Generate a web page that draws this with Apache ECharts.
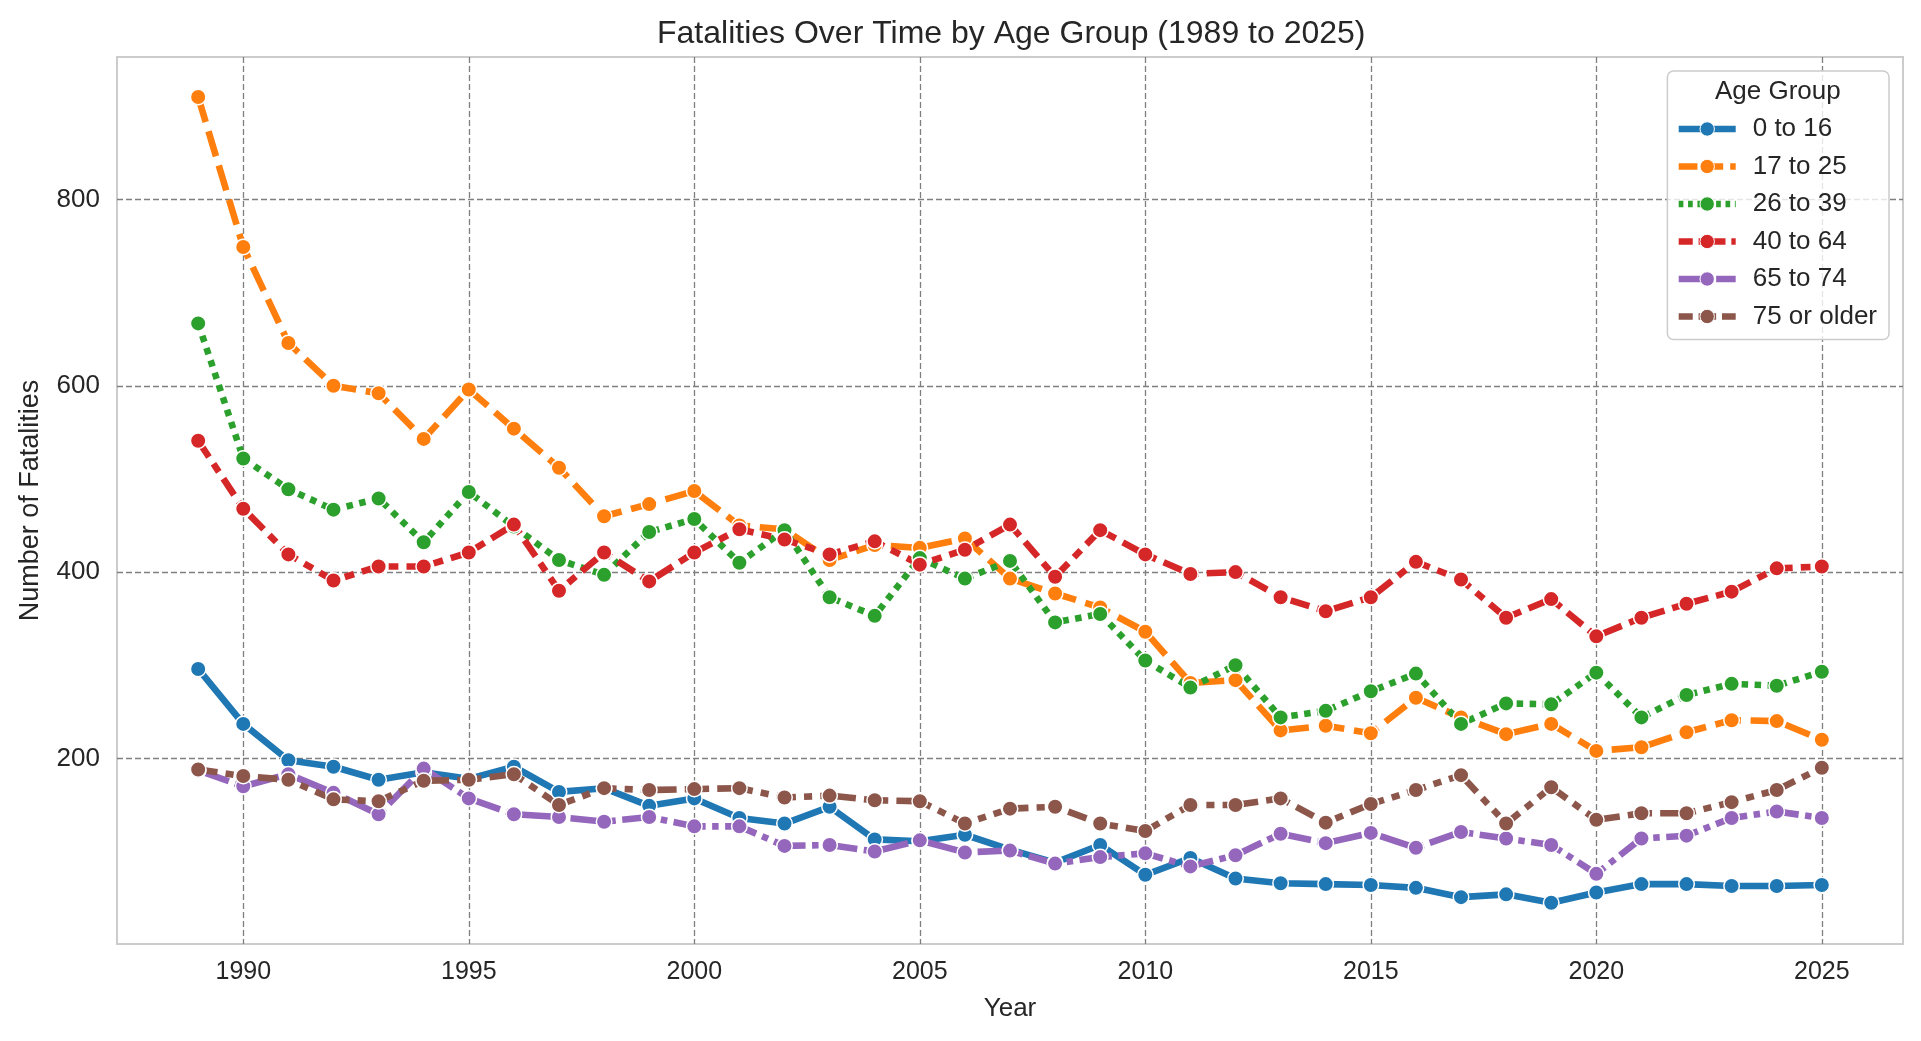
<!DOCTYPE html>
<html>
<head>
<meta charset="utf-8">
<script src="https://cdn.jsdelivr.net/npm/echarts@6/dist/echarts.min.js"></script>
<style>
  html, body { margin: 0; padding: 0; background: #ffffff; }
  #chart { width: 1921px; height: 1041px; }
</style>
</head>
<body>
<div id="chart"></div>
<script>
const years = [1989,1990,1991,1992,1993,1994,1995,1996,1997,1998,1999,2000,2001,2002,2003,2004,2005,2006,2007,2008,2009,2010,2011,2012,2013,2014,2015,2016,2017,2018,2019,2020,2021,2022,2023,2024,2025];
const ageGroups = ['0 to 16','17 to 25','26 to 39','40 to 64','65 to 74','75 or older'];
const age0to16 = [296,237,198,191,177,185,178,191,164,168,149,157,136,130,148,113,111,118,102,88,107,75,93,71,66,65,64,61,51,54,45,56,65,65,63,63,64];
const age17to25 = [910,749,646,600,592,543,596,554,512,460,473,487,450,446,413,429,426,436,393,377,362,336,281,284,230,235,227,265,244,226,237,208,212,228,241,240,220];
const age26to39 = [667,522,489,467,479,432,486,449,413,397,443,457,410,445,373,353,415,393,412,346,355,305,276,300,244,251,272,291,237,259,258,292,244,268,280,278,293];
const age40to64 = [541,468,419,391,406,406,421,451,380,421,390,421,446,435,419,433,408,424,451,395,445,419,398,400,373,358,373,411,392,351,371,331,351,366,379,404,406];
const age65to74 = [187,170,183,163,140,189,157,140,137,132,137,127,127,106,107,100,112,99,101,87,94,98,84,96,119,109,120,104,121,114,107,76,114,117,136,143,136];
const age75plus = [188,181,177,156,154,176,177,183,150,168,166,167,168,158,160,155,154,130,146,148,130,122,150,150,157,131,151,166,182,130,169,134,141,141,153,166,190];
const xTicks = [1990,1995,2000,2005,2010,2015,2020,2025];
const yTicks = [200,400,600,800];

const seriesValues = [age0to16, age17to25, age26to39, age40to64, age65to74, age75plus];
const colors = ['#1f77b4','#ff7f0e','#2ca02c','#d62728','#9467bd','#8c564b'];
const u = 6.5;
const dashes = [
  'solid',
  [4*u, 1.5*u],
  [1*u, 1*u],
  [3*u, 1.25*u, 1.5*u, 1.25*u],
  [5*u, 1*u, 1*u, 1*u],
  [3*u, 1.25*u, 1.25*u, 1.25*u, 1.25*u, 1.25*u]
];
const LW = 6.6;
const FONT = 'Liberation Sans, Arial, sans-serif';
const TXT = '#262626';

const series = ageGroups.map((name, i) => ({
  name: name,
  type: 'line',
  data: years.map((y, j) => [y, seriesValues[i][j]]),
  symbol: 'circle',
  symbolSize: 15.5,
  showSymbol: true,
  showAllSymbol: true,
  lineStyle: { color: colors[i], width: LW, type: dashes[i], cap: 'butt' },
  itemStyle: { color: colors[i], borderColor: '#ffffff', borderWidth: 1.5 },
  emphasis: { disabled: true }
}));

const legendData = ageGroups.map((name, i) => ({
  name: name,
  itemStyle: { color: colors[i], borderColor: '#ffffff', borderWidth: 1 },
  lineStyle: { color: colors[i], width: LW, type: dashes[i] === 'solid' ? 'solid' : dashes[i].map(d => d * 0.72), cap: 'butt' }
}));

const chart = echarts.init(document.getElementById('chart'), null, { renderer: 'canvas' });
chart.setOption({
  animation: false,
  backgroundColor: '#ffffff',
  title: [
    {
      text: 'Fatalities Over Time by Age Group (1989 to 2025)',
      left: 657, top: 18, padding: 0,
      textStyle: { fontFamily: FONT, fontSize: 32, fontWeight: 'normal', color: TXT }
    },
    {
      text: 'Age Group',
      left: 1715, top: 79, padding: 0, z: 20,
      textStyle: { fontFamily: FONT, fontSize: 26, fontWeight: 'normal', color: TXT }
    }
  ],
  grid: {
    left: 117, right: 18, top: 57, bottom: 97,
    show: true, borderColor: '#cccccc', borderWidth: 2, backgroundColor: 'transparent'
  },
  legend: {
    orient: 'vertical',
    right: 32, top: 71,
    padding: [45, 12, 10, 8],
    itemWidth: 57, itemHeight: 18, itemGap: 11.5,
    backgroundColor: 'rgba(255,255,255,0.8)',
    borderColor: '#cccccc', borderWidth: 1.5, borderRadius: 6,
    textStyle: { fontFamily: FONT, fontSize: 26, color: TXT, padding: [0, 0, 0, 12] },
    data: legendData
  },
  xAxis: {
    type: 'value', min: 1987.2, max: 2026.8,
    name: 'Year', nameLocation: 'middle', nameGap: 52,
    nameTextStyle: { fontFamily: FONT, fontSize: 26, color: TXT },
    axisLine: { show: false },
    axisTick: { show: false, customValues: xTicks },
    axisLabel: { customValues: xTicks, formatter: v => String(Math.round(v)), fontFamily: FONT, fontSize: 25, color: TXT, margin: 16 },
    splitLine: { show: true, lineStyle: { color: '#7f7f7f', width: 1.3, type: [6, 3] } }
  },
  yAxis: {
    type: 'value', min: 0.7, max: 953,
    name: 'Number of Fatalities', nameLocation: 'middle', nameGap: 73,
    nameTextStyle: { fontFamily: FONT, fontSize: 27, color: TXT },
    axisLine: { show: false },
    axisTick: { show: false, customValues: yTicks },
    axisLabel: { customValues: yTicks, formatter: v => String(Math.round(v)), fontFamily: FONT, fontSize: 26, color: TXT, margin: 17 },
    splitLine: { show: true, lineStyle: { color: '#7f7f7f', width: 1.3, type: [6, 3] } }
  },
  series: series
});
</script>
</body>
</html>
